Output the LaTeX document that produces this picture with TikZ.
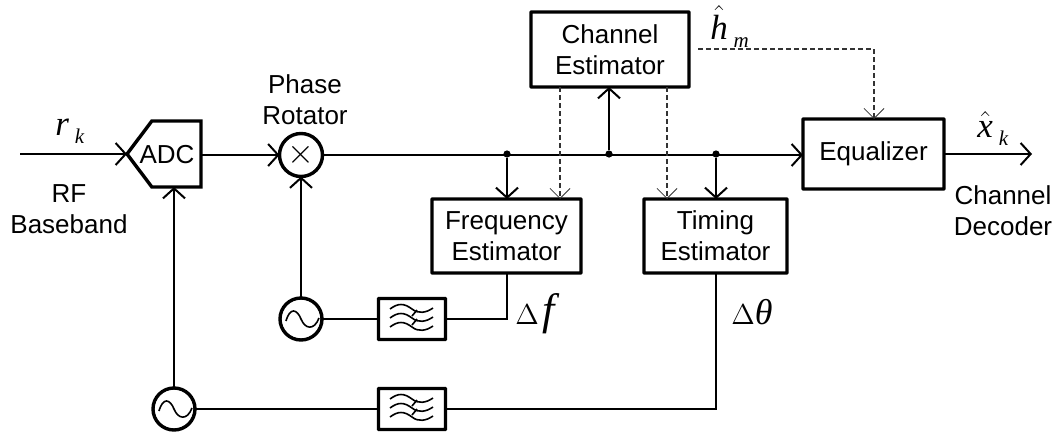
\documentclass[tikz,border=0pt]{standalone}
\usepackage{fontspec}
\setmainfont{Liberation Sans}
\newfontfamily\serifvar{Liberation Serif}
\usepackage{amsmath}
\usetikzlibrary{calc,arrows.meta,positioning,shapes.symbols}
\tikzset{
  sig/.style={line width=1pt,-{Straight Barb[length=5pt,width=11pt,line width=1pt]}},
  est/.style={line width=.55pt,dash pattern=on 2.5pt off 1.5pt,draw=black!80,-{Straight Barb[length=5pt,width=10pt,line width=.4pt]}},
  wire/.style={line width=1pt},
  block/.style={draw,line width=1.7pt,rounded corners=.3pt,align=center,inner sep=0pt,outer sep=0pt,font=\fontsize{13}{15.5}\selectfont},
  lpf/.style={draw,line width=1.7pt,rounded corners=.3pt,minimum width=33.5pt,minimum height=20.5pt,inner sep=0pt,outer sep=0pt},
  osc/.style={circle,draw,line width=1.7pt,minimum size=21pt,inner sep=0pt,outer sep=0pt},
  joint/.style={circle,fill,minimum size=3.6pt,inner sep=0pt,outer sep=0pt},
  lbl/.style={align=center,font=\fontsize{13}{15.5}\selectfont},
  sym/.style={inner sep=0pt,anchor=base west,font=\fontsize{17.5}{18}\selectfont},
  delta/.style={inner sep=0pt,anchor=base west,font=\fontsize{15}{20}\selectfont\serifvar},
}
\newcommand{\symvar}[1]{\text{\serifvar\itshape #1}}
\newcommand{\symsub}[1]{\,\raisebox{-4pt}{\fontsize{10.5}{10}\selectfont\serifvar\itshape #1}}
% filter icon: three waves and two slashes
\newcommand{\lpficon}[1]{%
  \begin{scope}[shift={(#1)},line width=.8pt]
    \foreach \dy in {-9,0,9}
      \draw ($(-22,-1)+(0,\dy)$) .. controls ($(-14,-7)+(0,\dy)$) and ($(-8,-7)+(0,\dy)$) .. ($(0,-1)+(0,\dy)$)
        .. controls ($(6,4)+(0,\dy)$) and ($(14,3)+(0,\dy)$) .. ($(21,-2)+(0,\dy)$);
    \draw (0,-3) -- (5,-9);
    \draw (0,6) -- (5,0);
  \end{scope}}
\newcommand{\oscicon}[1]{%
  \begin{scope}[shift={(#1)},line width=.8pt]
    \draw (-15,2) .. controls (-11,-12) and (-4,-10) .. (0,0)
      .. controls (4,10) and (13,12) .. (18,-1);
  \end{scope}}
\begin{document}
\begin{tikzpicture}[x=.5pt,y=-.5pt]
  \useasboundingbox (0,0) rectangle (1055,434);

  \node[draw,line width=1.7pt,signal,signal to=west,signal pointer angle=106,minimum width=37pt,minimum height=33pt,inner sep=0pt,outer sep=0pt,anchor=west] (adc) at (127,154) {};
  \node[lbl,inner sep=0pt] (adctxt) at (167,155) {ADC};
  \node[osc,minimum size=21.5pt] (mixer) at (301,155) {};
  \node[font=\fontsize{16}{16}\selectfont,inner sep=0pt] (times) at (mixer) {$\times$};
  \node[block,minimum width=79pt,minimum height=37.5pt] (chest) at (610,49.5) {Channel\\Estimator};
  \node[block,minimum width=74.5pt,minimum height=37pt] (freq) at (506.5,236) {Frequency\\Estimator};
  \node[block,minimum width=71.5pt,minimum height=37pt] (timing) at (715.5,236) {Timing\\Estimator};
  \node[block,minimum width=70.5pt,minimum height=35pt] (eq) at (873.5,154) {Equalizer};
  \node[lpf] (lpf1) at (412,319) {};
  \node[lpf] (lpf2) [below=24.5pt of lpf1] {};
  \node[osc] (osc1) at (301,319) {};
  \node[osc] (osc2) at (174,409) {};

  \node[joint] (j1) at (507,154) {};
  \node[joint] (j2) at (609,154) {};
  \node[joint] (j3) at (716,154) {};

  \coordinate (in) at (20,154);
  \coordinate (out) at (1032,154);
  \coordinate (h) at (698,49);

  \lpficon{lpf1}
  \lpficon{lpf2}
  \oscicon{osc1}
  \oscicon{osc2}

  % signal path
  \draw[sig] (in) -- (adc.west);
  \draw[sig] (adc.east |- mixer) -- (mixer.west);
  \draw[sig] (mixer.east) -- (eq.west |- mixer);
  \draw[sig] (eq.east) -- (out);
  \draw[sig] (j1) -- (freq.north -| j1);
  \draw[sig] (j2) -- (chest.south -| j2);
  \draw[sig] (j3) -- (timing.north -| j3);
  \draw[sig] (osc1.north) -- (mixer.south);
  \draw[sig] (osc2.north) -- (adc.south -| osc2);

  % feedback
  \draw[wire] (osc1.east) -- (lpf1.west);
  \draw[wire] (lpf1.east) -| (freq.south -| j1);
  \draw[wire] (osc2.east) -- (lpf2.west);
  \draw[wire] (lpf2.east) -| (timing.south -| j3);

  % channel estimate
  \draw[est] (chest.south -| 560,0) -- (freq.north -| 560,0);
  \draw[est] (chest.south -| 667,0) -- (timing.north -| 667,0);
  \draw[est] (h) -| (eq.north -| 874,0);

  \node[sym] (rk) at (55,135) {$\symvar{r}$\symsub{k}};
  \node[lbl] (rf) at (69,209.5) {RF\\Baseband};
  \node[lbl] (rot) at (305,100) {Phase\\Rotator};
  \node[sym] (hm) at (710,39) {$\hat{\symvar{h}}$\symsub{m}};
  \node[sym] (xk) at (977,137) {$\hat{\symvar{x}}$\symsub{k}};
  \node[lbl] (dec) at (1003,211) {Channel\\Decoder};
  \node[delta] (df) at (515,324) {$\Delta$\kern2pt\fontsize{22}{22}\selectfont\itshape f};
  \node[delta] (dt) at (731,324) {$\Delta$\fontsize{18}{20}\selectfont\itshape θ};
\end{tikzpicture}
\end{document}
